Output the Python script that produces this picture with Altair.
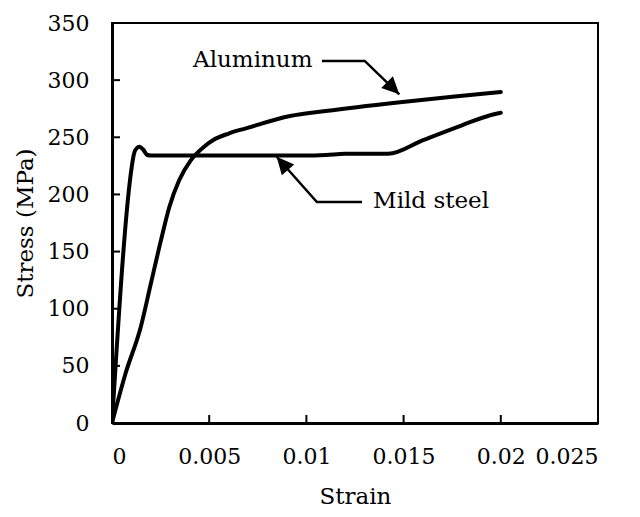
import altair as alt
import pandas as pd

# ---- data ----
steel_strain = [0, 0.00103, 0.00110, 0.00120, 0.00142, 0.00159, 0.00182, 0.0020, 0.004, 0.006,
                0.008, 0.0100, 0.0110, 0.0120, 0.0130, 0.0142, 0.0160, 0.0180, 0.0195, 0.0200]
steel_stress = [0, 225.8, 233, 238.9, 241.8, 239.5, 234.5, 234, 234, 234,
                234, 234, 234.5, 235.5, 235.5, 235.5, 247.5, 260.5, 269.5, 271.5]

alu_strain = [0, 0.00070, 0.00148, 0.00200, 0.00252, 0.00295, 0.00346, 0.00406, 0.00475,
              0.00521, 0.0060, 0.00693, 0.00916, 0.0110, 0.0147, 0.0175, 0.0200]
alu_stress = [0, 43.5, 84, 122, 160, 189, 212.6, 230, 242,
              247.6, 253.3, 258, 268.6, 273, 280.5, 285.5, 289.6]

x_ticks = [0, 0.005, 0.01, 0.015, 0.02, 0.025]
y_ticks = [0, 50, 100, 150, 200, 250, 300, 350]

# annotation leader lines (strain, stress); last point is the arrow tip
alu_arrow_x = [0.0108, 0.0130, 0.01478]
alu_arrow_y = [316.8, 316.8, 287.6]
steel_arrow_x = [0.01286, 0.01054, 0.00847]
steel_arrow_y = [193.4, 193.4, 233.0]

labels = ["Aluminum", "Mild steel"]
label_x = [0.00417, 0.01343]
label_y = [311.5, 188.1]

FONT = "DejaVu Serif"
FS_TICK = 22
FS_TEXT = 23

curves = pd.concat([
    pd.DataFrame({"strain": steel_strain, "stress": steel_stress, "material": "Mild steel",
                  "o": range(len(steel_strain))}),
    pd.DataFrame({"strain": alu_strain, "stress": alu_stress, "material": "Aluminum",
                  "o": range(len(alu_strain))}),
])

arrows = pd.concat([
    pd.DataFrame({"strain": alu_arrow_x, "stress": alu_arrow_y, "which": "alu", "o": range(3)}),
    pd.DataFrame({"strain": steel_arrow_x, "stress": steel_arrow_y, "which": "steel", "o": range(3)}),
])

xs = alt.Scale(domain=[0, 0.025], nice=False, zero=False)
ys = alt.Scale(domain=[0, 350], nice=False, zero=False)

xaxis = alt.Axis(values=x_ticks, format="~g", title="Strain", ticks=False, grid=False,
                 labelPadding=23, titleBaseline="alphabetic", titleY=80)
yaxis = alt.Axis(values=y_ticks, title="Stress (MPa)", ticks=False, grid=False,
                 labelPadding=23, titleBaseline="alphabetic", titleX=-79.5)

base_curves = alt.Chart(curves).mark_line(
    color="black", strokeWidth=4, interpolate="monotone", strokeCap="round", clip=True
).encode(
    x=alt.X("strain:Q", scale=xs, axis=xaxis),
    y=alt.Y("stress:Q", scale=ys, axis=yaxis),
    detail="material:N",
    order="o:Q",
)

lead = alt.Chart(arrows).mark_line(color="black", strokeWidth=2.5).encode(
    x=alt.X("strain:Q", scale=xs),
    y=alt.Y("stress:Q", scale=ys),
    detail="which:N",
    order="o:Q",
)

HEAD = "M0,0L0.95,2L-0.95,2Z"
alu_head = alt.Chart(pd.DataFrame({"strain": [alu_arrow_x[-1]], "stress": [alu_arrow_y[-1]]})).mark_point(
    shape=HEAD, filled=True, color="black", opacity=1, size=300, angle=135
).encode(x=alt.X("strain:Q", scale=xs), y=alt.Y("stress:Q", scale=ys))

steel_head = alt.Chart(pd.DataFrame({"strain": [steel_arrow_x[-1]], "stress": [steel_arrow_y[-1]]})).mark_point(
    shape=HEAD, filled=True, color="black", opacity=1, size=300, angle=319
).encode(x=alt.X("strain:Q", scale=xs), y=alt.Y("stress:Q", scale=ys))

text = alt.Chart(pd.DataFrame({"label": labels, "strain": label_x, "stress": label_y})).mark_text(
    font=FONT, fontSize=FS_TEXT, align="left", baseline="alphabetic", color="black"
).encode(x=alt.X("strain:Q", scale=xs), y=alt.Y("stress:Q", scale=ys), text="label:N")

xt = alt.Chart(pd.DataFrame({"t": x_ticks})).mark_rule(color="black", strokeWidth=2).encode(
    x=alt.X("t:Q", scale=xs), y=alt.value(400), y2=alt.value(392)
)
yt = alt.Chart(pd.DataFrame({"t": y_ticks})).mark_rule(color="black", strokeWidth=2).encode(
    y=alt.Y("t:Q", scale=ys), x=alt.value(0), x2=alt.value(8)
)

chart = alt.layer(xt, yt, base_curves, lead, alu_head, steel_head, text).properties(
    width=486, height=400,
    autosize=alt.AutoSizeParams(type="none"),
    padding={"left": 104, "top": 15, "right": 34, "bottom": 86},
).configure_view(
    stroke="black", strokeWidth=2
).configure_axis(
    labelFont=FONT, titleFont=FONT, labelFontSize=FS_TICK, titleFontSize=FS_TEXT,
    labelColor="black", titleColor="black", titleFontWeight="normal",
    domainColor="black", domainWidth=3,
)

chart.save("out.html", embed_options={"renderer": "svg", "actions": False})
